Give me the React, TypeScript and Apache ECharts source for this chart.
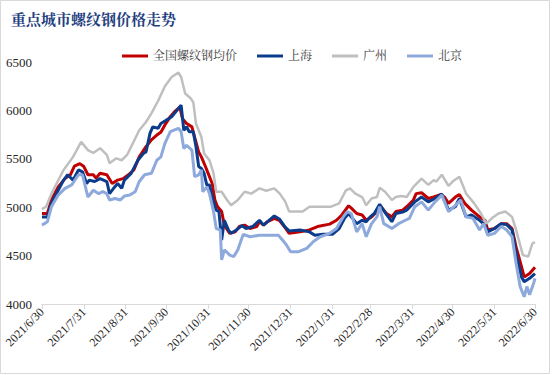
import React, { useEffect, useRef } from "react";
import * as echarts from "echarts";

const seriesNames = ["全国螺纹钢均价", "上海", "广州", "北京"];

const tickDates = [
  "2021/6/30", "2021/7/31", "2021/8/31", "2021/9/30", "2021/10/31", "2021/11/30",
  "2021/12/31", "2022/1/31", "2022/2/28", "2022/3/31", "2022/4/30", "2022/5/31", "2022/6/30",
];

const national: [string, number][] = [
  ["2021/6/30", 4935], ["2021/7/4", 4935], ["2021/7/7", 5075], ["2021/7/12", 5210], ["2021/7/17", 5295],
  ["2021/7/21", 5335], ["2021/7/24", 5425], ["2021/7/28", 5450], ["2021/7/31", 5420], ["2021/8/3", 5335],
  ["2021/8/7", 5335], ["2021/8/9", 5300], ["2021/8/12", 5350], ["2021/8/17", 5335], ["2021/8/21", 5245],
  ["2021/8/25", 5280], ["2021/8/29", 5295], ["2021/9/2", 5335], ["2021/9/6", 5385], ["2021/9/10", 5520],
  ["2021/9/15", 5625], ["2021/9/19", 5695], ["2021/9/23", 5745], ["2021/9/26", 5775], ["2021/9/29", 5850],
  ["2021/10/3", 5935], ["2021/10/6", 5985], ["2021/10/10", 6035], ["2021/10/12", 5915], ["2021/10/15", 5865],
  ["2021/10/19", 5830], ["2021/10/21", 5725], ["2021/10/24", 5570], ["2021/10/26", 5520], ["2021/10/29", 5420],
  ["2021/10/31", 5350], ["2021/11/3", 5245], ["2021/11/5", 5075], ["2021/11/7", 5005], ["2021/11/10", 4955],
  ["2021/11/12", 4815], ["2021/11/16", 4730], ["2021/11/20", 4745], ["2021/11/23", 4800], ["2021/11/27", 4815],
  ["2021/12/1", 4780], ["2021/12/6", 4800], ["2021/12/8", 4850], ["2021/12/11", 4815], ["2021/12/14", 4850],
  ["2021/12/19", 4885], ["2021/12/23", 4860], ["2021/12/27", 4790], ["2021/12/30", 4730], ["2022/1/7", 4745],
  ["2022/1/14", 4765], ["2022/1/20", 4800], ["2022/1/29", 4825], ["2022/2/3", 4865], ["2022/2/7", 4920],
  ["2022/2/12", 5015], ["2022/2/14", 4990], ["2022/2/18", 4935], ["2022/2/22", 4920], ["2022/2/25", 4865],
  ["2022/3/1", 4900], ["2022/3/5", 4955], ["2022/3/7", 5020], ["2022/3/12", 4935], ["2022/3/16", 4900],
  ["2022/3/19", 4955], ["2022/3/24", 4970], ["2022/3/27", 5005], ["2022/4/1", 5075], ["2022/4/3", 5140],
  ["2022/4/7", 5150], ["2022/4/12", 5090], ["2022/4/16", 5105], ["2022/4/21", 5130], ["2022/4/24", 5105],
  ["2022/4/27", 5040], ["2022/5/2", 5105], ["2022/5/5", 5130], ["2022/5/9", 5040], ["2022/5/14", 4970],
  ["2022/5/20", 4900], ["2022/5/24", 4865], ["2022/5/26", 4765], ["2022/5/31", 4780], ["2022/6/5", 4830],
  ["2022/6/9", 4830], ["2022/6/13", 4780], ["2022/6/16", 4590], ["2022/6/20", 4385], ["2022/6/22", 4280],
  ["2022/6/26", 4315], ["2022/6/30", 4380],
];

const shanghai: [string, number][] = [
  ["2021/6/30", 4900], ["2021/7/4", 4900], ["2021/7/7", 5040], ["2021/7/12", 5175], ["2021/7/16", 5280],
  ["2021/7/19", 5335], ["2021/7/23", 5280], ["2021/7/27", 5385], ["2021/7/30", 5365], ["2021/8/2", 5245],
  ["2021/8/4", 5280], ["2021/8/8", 5265], ["2021/8/12", 5295], ["2021/8/17", 5265], ["2021/8/19", 5140],
  ["2021/8/22", 5195], ["2021/8/25", 5245], ["2021/8/28", 5195], ["2021/8/30", 5280], ["2021/9/4", 5350],
  ["2021/9/9", 5485], ["2021/9/13", 5555], ["2021/9/15", 5570], ["2021/9/18", 5765], ["2021/9/20", 5830],
  ["2021/9/24", 5815], ["2021/9/26", 5865], ["2021/9/29", 5890], ["2021/10/4", 5935], ["2021/10/7", 5985],
  ["2021/10/11", 6055], ["2021/10/13", 5795], ["2021/10/15", 5830], ["2021/10/17", 5780], ["2021/10/20", 5780],
  ["2021/10/22", 5625], ["2021/10/24", 5420], ["2021/10/26", 5400], ["2021/10/28", 5350], ["2021/10/30", 5230],
  ["2021/11/1", 5230], ["2021/11/3", 5105], ["2021/11/6", 4970], ["2021/11/8", 4955], ["2021/11/10", 4660],
  ["2021/11/12", 4865], ["2021/11/15", 4765], ["2021/11/17", 4730], ["2021/11/21", 4765], ["2021/11/25", 4810],
  ["2021/11/28", 4780], ["2021/12/3", 4800], ["2021/12/8", 4865], ["2021/12/11", 4815], ["2021/12/14", 4850],
  ["2021/12/19", 4910], ["2021/12/23", 4875], ["2021/12/27", 4795], ["2021/12/30", 4755], ["2022/1/7", 4765],
  ["2022/1/14", 4745], ["2022/1/18", 4710], ["2022/1/24", 4720], ["2022/1/31", 4720], ["2022/2/5", 4780],
  ["2022/2/9", 4885], ["2022/2/12", 4935], ["2022/2/14", 4900], ["2022/2/18", 4830], ["2022/2/22", 4865],
  ["2022/2/25", 4850], ["2022/2/28", 4900], ["2022/3/3", 4935], ["2022/3/7", 5030], ["2022/3/11", 4945],
  ["2022/3/16", 4850], ["2022/3/19", 4935], ["2022/3/24", 4950], ["2022/3/27", 4970], ["2022/4/2", 5055],
  ["2022/4/7", 5105], ["2022/4/12", 5055], ["2022/4/17", 5090], ["2022/4/22", 5135], ["2022/4/27", 4970],
  ["2022/5/2", 5005], ["2022/5/5", 5090], ["2022/5/10", 4900], ["2022/5/14", 4920], ["2022/5/20", 4865],
  ["2022/5/24", 4815], ["2022/5/26", 4745], ["2022/5/31", 4780], ["2022/6/5", 4830], ["2022/6/9", 4820],
  ["2022/6/13", 4765], ["2022/6/16", 4525], ["2022/6/20", 4280], ["2022/6/22", 4230], ["2022/6/26", 4265],
  ["2022/6/30", 4315],
];

const guangzhou: [string, number][] = [
  ["2021/6/30", 4980], ["2021/7/3", 5005], ["2021/7/7", 5140], ["2021/7/11", 5250], ["2021/7/16", 5385],
  ["2021/7/23", 5520], ["2021/7/29", 5675], ["2021/8/3", 5590], ["2021/8/7", 5560], ["2021/8/12", 5610],
  ["2021/8/17", 5540], ["2021/8/19", 5455], ["2021/8/24", 5505], ["2021/8/28", 5485], ["2021/9/1", 5540],
  ["2021/9/4", 5625], ["2021/9/10", 5795], ["2021/9/15", 5880], ["2021/9/19", 5970], ["2021/9/24", 6100],
  ["2021/9/29", 6250], ["2021/10/4", 6345], ["2021/10/9", 6390], ["2021/10/11", 6345], ["2021/10/14", 6175],
  ["2021/10/18", 6125], ["2021/10/20", 6085], ["2021/10/22", 5865], ["2021/10/26", 5725], ["2021/10/28", 5555],
  ["2021/11/1", 5485], ["2021/11/4", 5350], ["2021/11/6", 5160], ["2021/11/10", 5160], ["2021/11/14", 5075],
  ["2021/11/17", 5020], ["2021/11/22", 5075], ["2021/11/27", 5160], ["2021/12/2", 5140], ["2021/12/8", 5195],
  ["2021/12/13", 5170], ["2021/12/19", 5195], ["2021/12/23", 5140], ["2021/12/27", 5060], ["2021/12/30", 4955],
  ["2022/1/9", 4955], ["2022/1/14", 5005], ["2022/1/30", 5005], ["2022/2/5", 5040], ["2022/2/10", 5175],
  ["2022/2/13", 5195], ["2022/2/17", 5140], ["2022/2/22", 5105], ["2022/2/25", 5020], ["2022/3/1", 5090],
  ["2022/3/5", 5105], ["2022/3/7", 5200], ["2022/3/11", 5160], ["2022/3/16", 5075], ["2022/3/19", 5105],
  ["2022/3/23", 5115], ["2022/3/27", 5105], ["2022/4/1", 5210], ["2022/4/7", 5295], ["2022/4/12", 5230],
  ["2022/4/16", 5280], ["2022/4/18", 5265], ["2022/4/22", 5335], ["2022/4/27", 5220], ["2022/4/30", 5265],
  ["2022/5/5", 5315], ["2022/5/10", 5140], ["2022/5/16", 5040], ["2022/5/21", 4935], ["2022/5/25", 4830],
  ["2022/5/29", 4885], ["2022/6/3", 4935], ["2022/6/8", 4955], ["2022/6/13", 4900], ["2022/6/16", 4765],
  ["2022/6/19", 4610], ["2022/6/21", 4505], ["2022/6/25", 4490], ["2022/6/28", 4625], ["2022/6/30", 4640],
];

const beijing: [string, number][] = [
  ["2021/6/30", 4815], ["2021/7/4", 4850], ["2021/7/7", 5005], ["2021/7/12", 5125], ["2021/7/17", 5195],
  ["2021/7/22", 5230], ["2021/7/27", 5335], ["2021/7/30", 5335], ["2021/8/3", 5105], ["2021/8/7", 5175],
  ["2021/8/11", 5140], ["2021/8/14", 5160], ["2021/8/17", 5140], ["2021/8/19", 5075], ["2021/8/23", 5090],
  ["2021/8/27", 5075], ["2021/8/30", 5115], ["2021/9/3", 5125], ["2021/9/7", 5160], ["2021/9/10", 5265],
  ["2021/9/14", 5335], ["2021/9/19", 5350], ["2021/9/23", 5485], ["2021/9/26", 5520], ["2021/9/29", 5660],
  ["2021/10/3", 5780], ["2021/10/9", 5815], ["2021/10/11", 5780], ["2021/10/13", 5605], ["2021/10/15", 5640],
  ["2021/10/19", 5590], ["2021/10/21", 5315], ["2021/10/24", 5335], ["2021/10/26", 5385], ["2021/10/27", 5160],
  ["2021/10/30", 5210], ["2021/11/1", 5140], ["2021/11/4", 4955], ["2021/11/6", 4780], ["2021/11/9", 4765],
  ["2021/11/10", 4455], ["2021/11/12", 4560], ["2021/11/16", 4505], ["2021/11/19", 4490], ["2021/11/22", 4560],
  ["2021/11/26", 4720], ["2021/12/1", 4695], ["2021/12/8", 4710], ["2021/12/22", 4710], ["2021/12/26", 4645],
  ["2021/12/28", 4610], ["2021/12/31", 4540], ["2022/1/6", 4540], ["2022/1/12", 4575], ["2022/1/17", 4645],
  ["2022/1/22", 4695], ["2022/1/29", 4730], ["2022/2/3", 4780], ["2022/2/8", 4900], ["2022/2/11", 4955],
  ["2022/2/14", 4935], ["2022/2/18", 4745], ["2022/2/22", 4830], ["2022/2/25", 4695], ["2022/3/1", 4830],
  ["2022/3/5", 4900], ["2022/3/7", 5005], ["2022/3/10", 4830], ["2022/3/12", 4815], ["2022/3/16", 4780],
  ["2022/3/21", 4830], ["2022/3/26", 4865], ["2022/3/29", 4885], ["2022/4/2", 5005], ["2022/4/7", 5055],
  ["2022/4/12", 4970], ["2022/4/17", 5055], ["2022/4/22", 5125], ["2022/4/27", 4955], ["2022/5/1", 5005],
  ["2022/5/6", 5075], ["2022/5/10", 4900], ["2022/5/15", 4885], ["2022/5/20", 4765], ["2022/5/23", 4830],
  ["2022/5/26", 4710], ["2022/5/31", 4730], ["2022/6/5", 4800], ["2022/6/9", 4765], ["2022/6/13", 4695],
  ["2022/6/16", 4420], ["2022/6/19", 4180], ["2022/6/22", 4075], ["2022/6/24", 4180], ["2022/6/26", 4095],
  ["2022/6/29", 4215], ["2022/6/30", 4265],
];

const colors = ["#C00000", "#0B3C8C", "#BFBFBF", "#8EA9DB"];

function buildDays(): string[] {
  const out: string[] = [];
  const start = new Date(2021, 5, 30);
  const end = new Date(2022, 5, 30);
  for (let d = new Date(start); d <= end; d.setDate(d.getDate() + 1)) {
    out.push(`${d.getFullYear()}/${d.getMonth() + 1}/${d.getDate()}`);
  }
  return out;
}

const SERIF = '"Liberation Serif", "Times New Roman", "Noto Serif CJK SC", "Noto Sans CJK SC", serif';

export default function App() {
  const ref = useRef<HTMLDivElement>(null);
  useEffect(() => {
    if (!ref.current) return;
    const chart = echarts.init(ref.current, undefined, { renderer: "svg" });
    const days = buildDays();
    const showTick = (_i: number, v: string) => tickDates.includes(v);
    const allData = [national, shanghai, guangzhou, beijing];
    chart.setOption({
      animation: false,
      title: {
        text: "重点城市螺纹钢价格走势",
        left: 6,
        top: 7,
        textStyle: { fontSize: 15, fontWeight: "bold", color: "#1F3F7F", fontFamily: SERIF },
      },
      graphic: [
        {
          type: "rect",
          shape: { x: 0.5, y: 0.5, width: 549, height: 373 },
          style: { fill: "none", stroke: "#D9D9D9", lineWidth: 1 },
          silent: true,
        },
      ],
      legend: {
        left: 117,
        top: 45,
        icon: "rect",
        itemWidth: 26,
        itemHeight: 3,
        itemGap: 20,
        textStyle: { fontSize: 12, color: "#404040", fontFamily: SERIF },
        data: seriesNames,
      },
      grid: { left: 42, right: 19, top: 62, bottom: 71 },
      xAxis: {
        type: "category",
        data: days,
        boundaryGap: false,
        axisLine: { lineStyle: { color: "#D9D9D9" } },
        axisTick: { interval: showTick, length: 5, lineStyle: { color: "#D9D9D9" } },
        axisLabel: {
          interval: showTick,
          rotate: 45,
          fontSize: 12,
          color: "#262626",
          margin: 6,
          fontFamily: SERIF,
        },
      },
      yAxis: {
        type: "value",
        min: 4000,
        max: 6500,
        interval: 500,
        splitLine: { show: false },
        axisLine: { show: false },
        axisTick: { show: false },
        axisLabel: {
          fontSize: 13,
          color: "#262626",
          margin: 10,
          fontFamily: SERIF,
          formatter: (v: number) => String(v),
        },
      },
      series: seriesNames.map((name, i) => ({
        name,
        type: "line",
        data: allData[i],
        symbol: "none",
        showSymbol: false,
        color: colors[i],
        lineStyle: { width: i === 2 ? 2.5 : 3, color: colors[i] },
      })),
    });
    return () => chart.dispose();
  }, []);
  return (
    <div
      ref={ref}
      style={{ position: "fixed", left: 0, top: 0, width: 554, height: 375, background: "#fff" }}
    />
  );
}
